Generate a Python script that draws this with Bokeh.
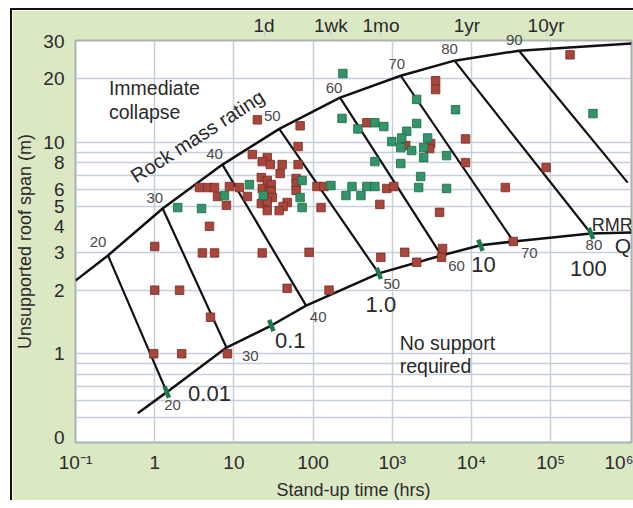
from bokeh.plotting import figure
from bokeh.models import LogAxis, FixedTicker, Label
from bokeh.embed import file_html
from bokeh.resources import INLINE

# ---------------- data ----------------
red_x = [1.0, 4.0, 5.7, 22.8, 89, 1.0, 2.06, 47, 5.06, 0.97, 2.19, 8.28, 159, 717, 1436,
         2033, 4316, 4193, 33750, 4.92, 19.8, 68.6, 64.7, 17.1, 26.4, 22.8, 28.8, 40.7,
         64.7, 38.4, 22.2, 61.1, 26.4, 29.6, 3.68, 4.64, 5.69, 8.78, 11.7, 22.8, 28.0,
         61.1, 61.1, 112, 137, 6.2, 14.8, 29.6, 30.5, 8.05, 22.2, 26.4, 47.1, 41.9, 37.3,
         26.4, 126, 478, 3526, 3526, 8414, 3051, 1479, 2965, 8414, 87800, 853, 1045,
         26800, 697, 3958, 175800]
red_y = [3.22, 3.0, 3.0, 3.0, 3.02, 2.0, 2.0, 2.04, 1.49, 1.0, 1.0, 1.0, 2.0, 2.86, 3.02,
         2.71, 3.15, 2.86, 3.40, 4.01, 12.8, 12.0, 9.57, 8.77, 8.48, 8.12, 7.86, 7.86,
         7.86, 7.13, 6.82, 6.75, 6.61, 6.32, 6.12, 6.12, 6.12, 6.19, 6.12, 6.06, 5.93,
         6.39, 5.93, 6.19, 6.19, 5.55, 5.55, 5.86, 5.49, 5.04, 5.14, 5.26, 5.20, 4.98, 4.76,
         4.76, 4.92, 12.4, 19.6, 17.8, 10.4, 9.88, 9.67, 9.36, 8.03, 7.61, 6.06, 6.19,
         6.12, 5.09, 4.67, 26.0]

green_x = [72.7, 15.7, 7.6, 23.5, 68.6, 1.95, 3.9, 72.7, 168, 238, 2033, 6295, 342500,
           232, 603, 782, 368, 2033, 1521, 1316, 986, 2797, 2489, 1280, 1759, 2489, 4849,
           603, 1280, 2282, 310, 478, 603, 2154, 4849, 260, 402]
green_y = [6.61, 6.32, 5.61, 5.61, 5.49, 4.92, 4.87, 4.92, 6.26, 21.2, 16.0, 14.3, 13.7,
           13.0, 12.4, 11.9, 11.6, 12.3, 11.3, 10.5, 10.1, 10.5, 9.46, 9.46, 9.16, 8.48,
           8.67, 8.12, 7.95, 6.90, 6.19, 6.19, 6.19, 6.12, 6.06, 5.61, 5.61]

# Rock mass rating lines (upper end on collapse boundary, lower end on no-support boundary)
rmr_values = ["20", "30", "40", "50", "60", "70", "80", "90"]
rmr_top_x = [0.257, 1.26, 7.17, 37.4, 219, 1279, 6110, 39900]
rmr_top_y = [2.92, 4.87, 7.86, 11.6, 16.3, 20.7, 24.4, 27.2]
rmr_bot_x = [1.42, 8.05, 81.6, 676, 4170, 33900, 323000, 940000]
rmr_bot_y = [0.658, 1.07, 1.69, 2.40, 2.92, 3.40, 3.71, 6.46]

# boundaries
upper_x = [0.1, 0.257, 1.26, 7.17, 37.4, 219, 1279, 6110, 39900, 1.05e6]
upper_y = [2.22, 2.92, 4.87, 7.86, 11.6, 16.3, 20.7, 24.4, 27.2, 29.4]
lower_x = [0.611, 1.42, 8.05, 29.7, 81.6, 676, 4170, 13000, 33900, 323000, 1.05e6]
lower_y = [0.523, 0.658, 1.07, 1.36, 1.69, 2.40, 2.92, 3.26, 3.40, 3.71, 3.75]

# Q marks on the lower boundary
q_labels = ["0.01", "0.1", "1.0", "10", "100"]
q_x = [1.42, 29.7, 676, 13000, 323000]
q_y = [0.658, 1.36, 2.40, 3.26, 3.71]

x_ticks = [0.1, 1, 10, 100, 1000, 10000, 100000, 1000000]
x_tick_labels = ["10⁻¹", "1", "10", "100", "10³", "10⁴", "10⁵", "10⁶"]
y_ticks = [0.4, 1, 2, 3, 4, 5, 6, 8, 10, 20, 30]
y_tick_labels = ["0", "1", "2", "3", "4", "5", "6", "8", "10", "20", "30"]
time_ticks = [24, 168, 720, 8760, 87600]
time_labels = ["1d", "1wk", "1mo", "1yr", "10yr"]

# ---------------- figure ----------------
FONT = "Liberation Sans"
GREEN_BG = "#dbe8c4"
TXT = "#2a2a2a"
SMALL = "#4a4a4a"

p = figure(width=623, height=492, x_axis_type="log", y_axis_type="log",
           x_range=(0.0999, 1.05e6), y_range=(0.38, 30.4),
           output_backend="svg", toolbar_location=None,
           min_border_left=59, min_border_right=4, min_border_top=30, min_border_bottom=57,
           border_fill_color=GREEN_BG, background_fill_color="white",
           outline_line_color="#a9b2b2", outline_line_width=2)
p.margin = (8, 0, 0, 10)
p.styles = {"border-top": "2px solid #111", "border-left": "2px solid #111"}

p.xaxis.ticker = FixedTicker(ticks=x_ticks)
p.xaxis.major_label_overrides = dict(zip(x_ticks, x_tick_labels))
p.yaxis.ticker = FixedTicker(ticks=y_ticks)
p.yaxis.major_label_overrides = dict(zip(y_ticks, y_tick_labels))
for ax in (p.xaxis[0], p.yaxis[0]):
    ax.axis_line_color = None
    ax.major_tick_line_color = None
    ax.minor_tick_line_color = None
    ax.major_label_text_font = FONT
    ax.major_label_text_font_size = "19px"
    ax.major_label_text_color = TXT
    ax.axis_label_text_font = FONT
    ax.axis_label_text_font_size = "18px"
    ax.axis_label_text_font_style = "normal"
    ax.axis_label_text_color = TXT
p.xaxis.axis_label = "Stand-up time (hrs)"
p.yaxis.axis_label = "Unsupported roof span (m)"
p.xaxis.major_label_standoff = 3
p.yaxis.major_label_standoff = 5
p.xaxis.axis_label_standoff = 4
p.yaxis.axis_label_standoff = 5

# the "90" rating sits across the top edge of the frame: shown as a label of a thin top axis
rmr90_axis = LogAxis(ticker=FixedTicker(ticks=[rmr_top_x[-1] * 0.87]),
                     major_label_overrides={rmr_top_x[-1] * 0.87: rmr_values[-1]},
                     axis_line_color=None, major_tick_line_color=None,
                     minor_tick_line_color=None, major_label_text_font=FONT,
                     major_label_text_font_size="15px", major_label_text_color=SMALL,
                     major_label_standoff=-10)
p.add_layout(rmr90_axis, "above")

top = LogAxis(ticker=FixedTicker(ticks=time_ticks),
              major_label_overrides=dict(zip(time_ticks, time_labels)),
              axis_line_color=None, major_tick_in=5, major_tick_out=0,
              major_tick_line_color="#c3ccd6", minor_tick_line_color=None,
              major_label_text_font=FONT, major_label_text_font_size="19px",
              major_label_text_color=TXT, major_label_standoff=-4)
p.add_layout(top, "above")

p.xgrid.ticker = FixedTicker(ticks=[1, 10, 100, 1000, 10000, 100000])
p.ygrid.ticker = FixedTicker(ticks=[0.5, 0.6, 0.7, 0.8, 0.9, 1, 2, 3, 5, 6, 7, 8, 9, 10, 20])
for g in (p.xgrid[0], p.ygrid[0]):
    g.grid_line_color = "#c6d0da"
    g.grid_line_width = 1.5

# boundaries and RMR lines
p.line(upper_x, upper_y, line_color="#111111", line_width=2.5)
p.line(lower_x, lower_y, line_color="#111111", line_width=2.5)
p.segment(x0=rmr_top_x, y0=rmr_top_y, x1=rmr_bot_x, y1=rmr_bot_y,
          line_color="#111111", line_width=2.2)

# data points
p.scatter(red_x, red_y, marker="square", size=8.5, fill_color="#a8463c",
          line_color="#7a2b24", line_width=0.8)
p.scatter(green_x, green_y, marker="square", size=8.5, fill_color="#33946a",
          line_color="#1d6a45", line_width=0.8)

# Q marks
p.scatter(q_x, q_y, marker="dash", size=12, angle=-1.2, line_color="#1a7a4c", line_width=4.5)

def lab(x, y, text, size, color=TXT, align="center", angle=0.0):
    p.add_layout(Label(x=x, y=y, text=text, text_font=FONT, text_font_size=size,
                       text_color=color, text_align=align, text_baseline="middle",
                       angle=angle))

# RMR labels on upper boundary (20..80)
top_lab_x = [0.192, 1.0, 5.69, 30.5, 184, 1140, 5290]
top_lab_y = [3.37, 5.49, 8.86, 13.3, 18.2, 23.6, 27.8]
for t, x, y in zip(rmr_values[:7], top_lab_x, top_lab_y):
    lab(x, y, t, "15px", SMALL)

# RMR labels on lower boundary
bot_lab_x = [1.68, 16.1, 116, 986, 6470, 53700, 352000]
bot_lab_y = [0.571, 0.973, 1.50, 2.13, 2.59, 2.99, 3.26]
for t, x, y in zip(rmr_values[:7], bot_lab_x, bot_lab_y):
    lab(x, y, t, "15px", SMALL)

# Q labels
q_lab_x = [4.92, 51.4, 717, 14200, 300000]
q_lab_y = [0.651, 1.15, 1.71, 2.65, 2.54]
for t, x, y in zip(q_labels, q_lab_x, q_lab_y):
    lab(x, y, t, "22px")

lab(330000, 4.05, "RMR", "18px", align="left")
lab(817000, 3.26, "Q", "21px")

lab(0.264, 18.2, "Immediate", "19.5px", align="left")
lab(0.264, 14.0, "collapse", "19.5px", align="left")
lab(1242, 1.13, "No support", "19.5px", align="left")
lab(1242, 0.873, "required", "19.5px", align="left")
lab(3.47, 10.7, "Rock mass rating", "20px", angle=0.57)

open("out.html", "w").write(file_html(p, INLINE))
